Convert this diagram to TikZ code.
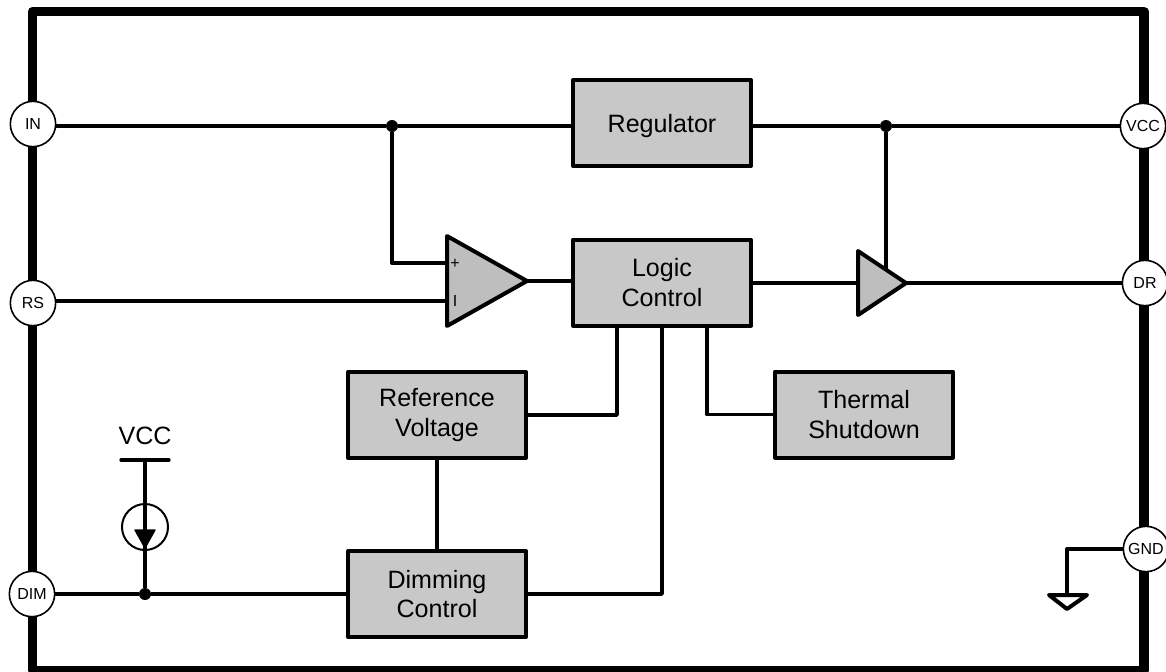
\documentclass[tikz,border=0pt]{standalone}
\usepackage{fontspec}
\setmainfont{Liberation Sans}
\usetikzlibrary{arrows.meta,positioning,calc}
\definecolor{blockgray}{HTML}{C8C8C8}
\definecolor{ampgray}{HTML}{BEBEBE}

\begin{document}
\begin{tikzpicture}[x=0.75pt, y=-0.75pt, line join=round,
  blockbox/.style={draw, line width=3pt, fill=blockgray, minimum width=133.5pt,
    minimum height=64.5pt, inner sep=0pt, align=center, font=\fontsize{18.8}{22}\selectfont},
  pinnode/.style={draw, circle, line width=1.2pt, fill=white, minimum size=34pt,
    inner sep=0pt, font=\fontsize{12}{14}\selectfont},
  wire/.style={line width=2.5pt},
  dotnode/.style={circle, fill=black, inner sep=0pt, minimum size=9pt},
  ampshape/.style={draw, line width=3pt, fill=ampgray}]
  \useasboundingbox (0,0) rectangle (1166,671);
  \draw[line width=7pt] (32.5,11.5) rectangle (1144,670.5);

  \node (IN) [pinnode] at (33,124) {IN};
  \node (RS) [pinnode] at (33,303) {RS};
  \node (DIM) [pinnode] at (32,594) {DIM};
  \node (VCC) [pinnode] at (1143,126) {VCC};
  \node (DR) [pinnode] at (1145,283) {DR};
  \node (GND) [pinnode] at (1146,549) {GND};

  \node (Reg) [blockbox, text depth=0pt] at (662,123) {Regulator};
  \node (Logic) [blockbox] at (662,282.5) {Logic\\Control};
  \node (Ref) [blockbox] at (437,415) {Reference\\Voltage};
  \node (Thermal) [blockbox] at (864,414.5) {Thermal\\Shutdown};
  \node (Dim) [blockbox] at (437,594) {Dimming\\Control};

  \coordinate (ampplus) at (447,263);
  \coordinate (ampminus) at (447,301);
  \coordinate (amptip) at (527,281);
  \coordinate (bufin) at (858,283);
  \coordinate (buftip) at (906,283);
  \coordinate (bufrail) at (886,270);
  \coordinate (gndtop) at (1067,595);
  \coordinate (railtop) at (145,460);

  \node (dotIN) [dotnode] at (392,126) {};
  \node (dotVCC) [dotnode] at (886,126) {};
  \node (dotDIM) [dotnode] at (145,594) {};

  \draw[wire] (IN.east |- dotIN) -- (dotIN) -- (Reg.west |- dotIN);
  \draw[wire] (Reg.east |- dotVCC) -- (dotVCC) -- (VCC);
  \draw[wire] (dotIN) |- (ampplus);
  \draw[wire] (RS.east |- ampminus) -- (ampminus);
  \draw[wire] (dotVCC) -- (bufrail);
  \draw[wire] (amptip) -- (Logic.west |- amptip);
  \draw[wire] (Logic.east |- bufin) -- (bufin);
  \draw[wire] (buftip) -- (DR);
  \draw[wire] (617,327) |- (Ref.east);
  \draw[wire] (707,327) |- (Thermal.west);
  \draw[wire] (662,327) |- (Dim.east);
  \draw[wire] (Ref) -- (Dim);
  \draw[wire] (DIM) -- (dotDIM) -- (Dim);
  \draw[wire] (GND) -| (gndtop);

  \draw[ampshape] (447,236) -- (amptip) -- (447,326) -- cycle;
  \draw[ampshape] (858,251) -- (buftip) -- (858,315) -- cycle;
  \node (plus) [inner sep=0pt, font=\fontsize{12}{14}\selectfont] at (455,264) {+};
  \node (minus) [inner sep=0pt, font=\fontsize{12}{14}\selectfont] at (455,301) {I};

  \node (railtext) [inner sep=0pt, font=\fontsize{18.8}{22}\selectfont] at (145,436) {VCC};
  \draw[wire, line cap=round] (121,460) -- (169,460);
  \node (source) [draw, circle, line width=1.5pt, minimum size=34.5pt, inner sep=0pt] at (145,527) {};
  \draw[wire] (railtop) -- (dotDIM);
  \draw[fill=black, line width=1pt] (135,530) -- (155,530) -- (145,548) -- cycle;

  \draw[line width=3pt, fill=white] (1049,595) -- (1087,595) -- (1067,609) -- cycle;
\end{tikzpicture}
\end{document}
